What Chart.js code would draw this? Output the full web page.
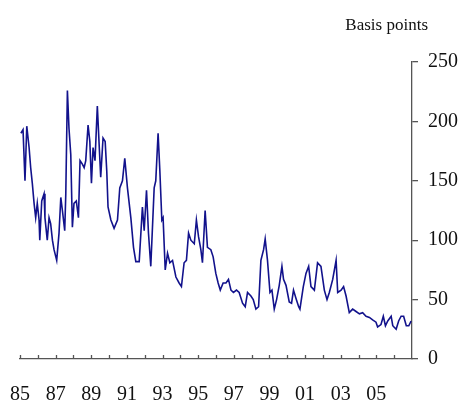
<!DOCTYPE html>
<html lang="en">
<head>
<meta charset="UTF-8">
<title>Basis points</title>
<script src="https://cdn.jsdelivr.net/npm/chart.js"></script>
<style>
  html, body { margin: 0; padding: 0; background: #fff; }
  #wrap { width: 464px; height: 404px; }
</style>
</head>
<body>
<div id="wrap"><canvas id="spreadChart"></canvas></div>
<script>
// Spread in basis points (decimal years)
const years = [
  1985.05, 1985.17, 1985.28, 1985.38, 1985.51, 1985.60, 1985.69, 1985.79, 1985.88, 1985.97,
  1986.07, 1986.11, 1986.22, 1986.35, 1986.40, 1986.53, 1986.63, 1986.72, 1986.82, 1986.91,
  1987.06, 1987.19, 1987.29, 1987.38, 1987.51, 1987.57, 1987.66, 1987.75, 1987.85, 1987.94,
  1988.03, 1988.16, 1988.28, 1988.37, 1988.50, 1988.60, 1988.69, 1988.82, 1988.92, 1989.01,
  1989.10, 1989.21, 1989.34, 1989.44, 1989.53, 1989.66, 1989.78, 1989.87, 1989.94, 1990.10,
  1990.28, 1990.47, 1990.60, 1990.75, 1990.88, 1991.03, 1991.22, 1991.37, 1991.50, 1991.69,
  1991.87, 1991.97, 1992.10, 1992.21, 1992.34, 1992.53, 1992.62, 1992.75, 1992.85, 1992.96,
  1993.03, 1993.15, 1993.28, 1993.41, 1993.56, 1993.75, 1993.93, 1994.06, 1994.21, 1994.34,
  1994.46, 1994.59, 1994.78, 1994.90, 1995.02, 1995.15, 1995.24, 1995.39, 1995.52, 1995.71,
  1995.84, 1995.99, 1996.12, 1996.24, 1996.40, 1996.56, 1996.70, 1996.84, 1996.98, 1997.15,
  1997.30, 1997.49, 1997.64, 1997.77, 1997.96, 1998.09, 1998.24, 1998.39, 1998.52, 1998.67,
  1998.76, 1998.89, 1999.03, 1999.14, 1999.27, 1999.40, 1999.55, 1999.70, 1999.79, 1999.93,
  2000.11, 2000.24, 2000.35, 2000.49, 2000.64, 2000.71, 2000.90, 2001.05, 2001.20, 2001.33,
  2001.52, 2001.70, 2001.89, 2002.08, 2002.23, 2002.36, 2002.55, 2002.74, 2002.83, 2003.02,
  2003.16, 2003.30, 2003.48, 2003.67, 2003.86, 2004.05, 2004.23, 2004.42, 2004.61, 2004.79,
  2004.98, 2005.07, 2005.26, 2005.39, 2005.51, 2005.64, 2005.83, 2005.92, 2006.11, 2006.25,
  2006.39, 2006.53, 2006.68, 2006.82, 2006.95
];
const spreads = [
  190, 193, 150, 196, 178, 161, 148, 131, 119, 131,
  117, 100, 133, 139, 119, 100, 119, 114, 100, 92,
  83, 106, 136, 125, 108, 139, 226, 194, 172, 111,
  131, 133, 119, 167, 164, 161, 167, 197, 183, 148,
  178, 167, 213, 181, 153, 186, 183, 158, 128, 117,
  110, 117, 144, 150, 169, 144, 119, 94, 82, 82,
  128, 108, 142, 106, 78, 144, 150, 190, 158, 117,
  119, 75, 89, 81, 83, 69, 64, 61, 81, 83,
  106, 100, 97, 117, 103, 92, 81, 125, 94, 92,
  86, 72, 64, 58, 64, 64, 67, 58, 56, 58,
  56, 47, 44, 56, 53, 50, 42, 44, 83, 92,
  101, 83, 56, 58, 42, 50, 62, 78, 67, 62,
  48, 47, 58, 51, 44, 42, 61, 72, 78, 61,
  58, 81, 78, 58, 50, 56, 67, 83, 56, 58,
  61, 53, 39, 42, 40, 38, 39, 36, 35, 33,
  31, 27, 29, 36, 28, 32, 36, 28, 25, 32,
  36, 36, 28, 28, 32
];

// x-axis tick labels (only odd years carry text)
const labelYears = [1985, 1987, 1989, 1991, 1993, 1995, 1997, 1999, 2001, 2003, 2005];
const tickLabels = ['85', '87', '89', '91', '93', '95', '97', '99', '01', '03', '05'];

// y-axis ticks
const yTicks = [0, 50, 100, 150, 200, 250];

const axisColor = '#555';
const serif = 'Liberation Serif';

// small upward ticks on the x axis, one per year
const yearTicksPlugin = {
  id: 'yearTicks',
  afterDraw(chart) {
    const xs = chart.scales.x;
    const bottom = chart.chartArea.bottom;
    const ctx = chart.ctx;
    ctx.save();
    ctx.strokeStyle = axisColor;
    ctx.lineWidth = 1.3;
    for (let yr = xs.min; yr < xs.max; yr++) {
      const px = Math.round(xs.getPixelForValue(yr)) + 0.5;
      ctx.beginPath();
      ctx.moveTo(px, bottom);
      ctx.lineTo(px, bottom - 4);
      ctx.stroke();
    }
    ctx.restore();
  }
};

// unit caption above the right axis
const unitPlugin = {
  id: 'unitCaption',
  afterDraw(chart) {
    const ctx = chart.ctx;
    ctx.save();
    ctx.fillStyle = '#111';
    ctx.font = '17px "' + serif + '"';
    ctx.textAlign = 'right';
    ctx.textBaseline = 'alphabetic';
    ctx.fillText('Basis points', chart.chartArea.right + 16, 30);
    ctx.restore();
  }
};

const points = years.map((yr, i) => ({ x: yr, y: spreads[i] }));

new Chart(document.getElementById('spreadChart'), {
  type: 'line',
  data: {
    datasets: [{
      data: points,
      borderColor: '#12128c',
      borderWidth: 1.6,
      pointRadius: 0,
      tension: 0,
      fill: false
    }]
  },
  options: {
    responsive: true,
    maintainAspectRatio: false,
    animation: false,
    layout: { padding: { top: 62, right: 0, bottom: 0, left: 20 } },
    plugins: {
      legend: { display: false },
      tooltip: { enabled: false }
    },
    scales: {
      x: {
        type: 'linear',
        min: 1985,
        max: 2007,
        afterBuildTicks: (scale) => {
          scale.ticks = [];
          for (let yr = 1985; yr <= 2007; yr++) scale.ticks.push({ value: yr });
        },
        afterFit: (scale) => {
          scale.height = 45;
          scale.paddingLeft = 0;
          scale.paddingRight = 0;
        },
        ticks: {
          autoSkip: false,
          maxRotation: 0,
          padding: 24,
          color: '#111',
          font: { family: serif, size: 20 },
          callback: (v) => {
            const i = labelYears.indexOf(v);
            return i >= 0 ? tickLabels[i] : '';
          }
        },
        grid: { display: false, drawTicks: false },
        border: { display: true, color: axisColor, width: 1.3 }
      },
      y: {
        position: 'right',
        min: yTicks[0],
        max: yTicks[yTicks.length - 1],
        afterBuildTicks: (scale) => {
          scale.ticks = yTicks.map((v) => ({ value: v }));
        },
        afterFit: (scale) => {
          scale.width = 52;
          scale.paddingTop = 0;
          scale.paddingBottom = 0;
        },
        ticks: {
          padding: 10,
          color: '#111',
          font: { family: serif, size: 20 }
        },
        grid: {
          display: true,
          drawOnChartArea: false,
          tickLength: 6,
          color: axisColor,
          lineWidth: 1.3
        },
        border: { display: true, color: axisColor, width: 1.3 }
      }
    }
  },
  plugins: [yearTicksPlugin, unitPlugin]
});
</script>
</body>
</html>
